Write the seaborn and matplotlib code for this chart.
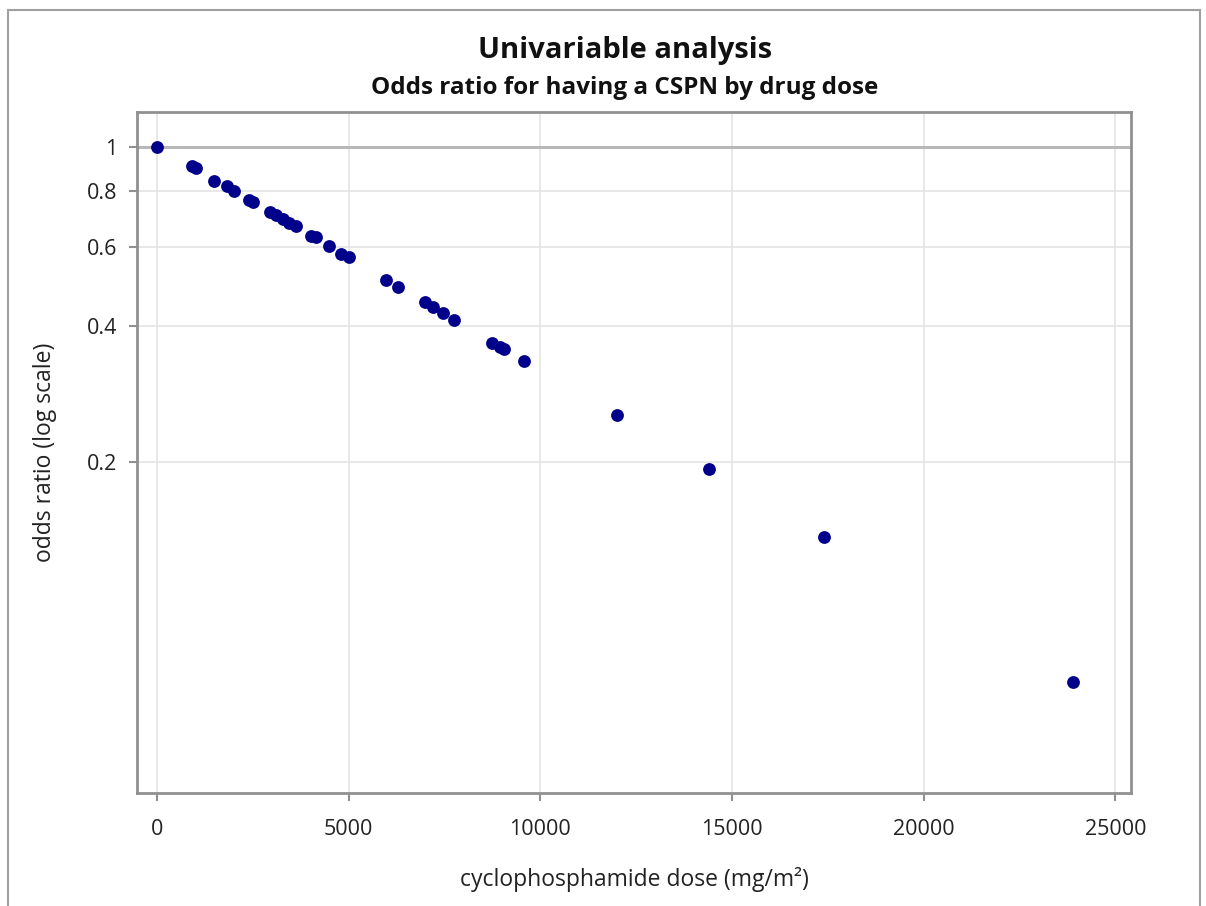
import matplotlib
matplotlib.use("Agg")
import matplotlib.pyplot as plt
import seaborn as sns
import pandas as pd
from matplotlib.ticker import FixedLocator, FixedFormatter, NullLocator
from matplotlib.patches import Rectangle

# ---- data ----
dose = [0, 913, 1017, 1487, 1826, 2008, 2400, 2504,
        2947, 3104, 3286, 3443, 3625, 4017, 4147, 4486,
        4799, 5008, 5973, 6286, 6990, 7199, 7460, 7747,
        8738, 8946, 9051, 9572, 11998, 14397, 17397, 23891]
odds_ratio = [1.0, 0.907, 0.898, 0.840, 0.819, 0.799, 0.763, 0.755,
              0.717, 0.706, 0.692, 0.678, 0.668, 0.634, 0.631, 0.603,
              0.579, 0.570, 0.507, 0.489, 0.453, 0.441, 0.428, 0.413,
              0.367, 0.360, 0.356, 0.335, 0.254, 0.193, 0.136, 0.0648]
x_ticks = [0, 5000, 10000, 15000, 20000, 25000]
y_ticks = [0.2, 0.4, 0.6, 0.8, 1.0]
y_tick_labels = ["0.2", "0.4", "0.6", "0.8", "1"]

title = "Univariable analysis"
subtitle = "Odds ratio for having a CSPN by drug dose"
x_label = "cyclophosphamide dose (mg/m²)"
y_label = "odds ratio (log scale)"

df = pd.DataFrame({"dose": dose, "odds_ratio": odds_ratio})

sns.set_style("white")
plt.rcParams["font.family"] = ["Open Sans", "DejaVu Sans"]

fig = plt.figure(figsize=(12.06, 9.06), dpi=100)
ax = fig.add_axes([0.1136, 0.1247, 0.8242, 0.7517])

# outer frame of the whole graphic
fig.patches.append(Rectangle((8 / 1206, -0.05), (1200 - 8) / 1206, 1 - 10 / 906 + 0.05,
                             transform=fig.transFigure, fill=False,
                             edgecolor="#a0a0a0", linewidth=1.5, zorder=0))

ax.set_yscale("log")
ax.set_xlim(-522, 25404)
ax.set_ylim(0.0368, 1.196)

ax.grid(True, color="#e4e4e4", linewidth=1.2, zorder=0)
ax.axhline(1.0, color="#b8b8b8", linewidth=2.2, zorder=1)

sns.scatterplot(data=df, x="dose", y="odds_ratio", ax=ax, color="#00008B",
                s=85, linewidth=0, zorder=3, legend=False)

ax.xaxis.set_major_locator(FixedLocator(x_ticks))
ax.yaxis.set_major_locator(FixedLocator(y_ticks))
ax.yaxis.set_major_formatter(FixedFormatter(y_tick_labels))
ax.yaxis.set_minor_locator(NullLocator())
ax.xaxis.set_minor_locator(NullLocator())

for sp in ax.spines.values():
    sp.set_color("#909090")
    sp.set_linewidth(2)

ax.tick_params(axis="both", which="major", direction="out", length=6, width=1.5,
               color="#909090", labelsize=15.5, labelcolor="#222222",
               bottom=True, left=True)
ax.tick_params(axis="x", pad=13)
ax.tick_params(axis="y", pad=8)

ax.set_xlabel(x_label, fontsize=16.5, color="#222222", labelpad=19)
ax.set_ylabel(y_label, fontsize=16.5, color="#222222", labelpad=22)

fig.text(0.518, 0.944, title, ha="center", va="center", fontsize=21,
         fontweight="bold", color="#111111")
fig.text(0.518, 0.903, subtitle, ha="center", va="center", fontsize=17.5,
         fontweight="bold", color="#111111")

fig.savefig("out.png", dpi=100)
